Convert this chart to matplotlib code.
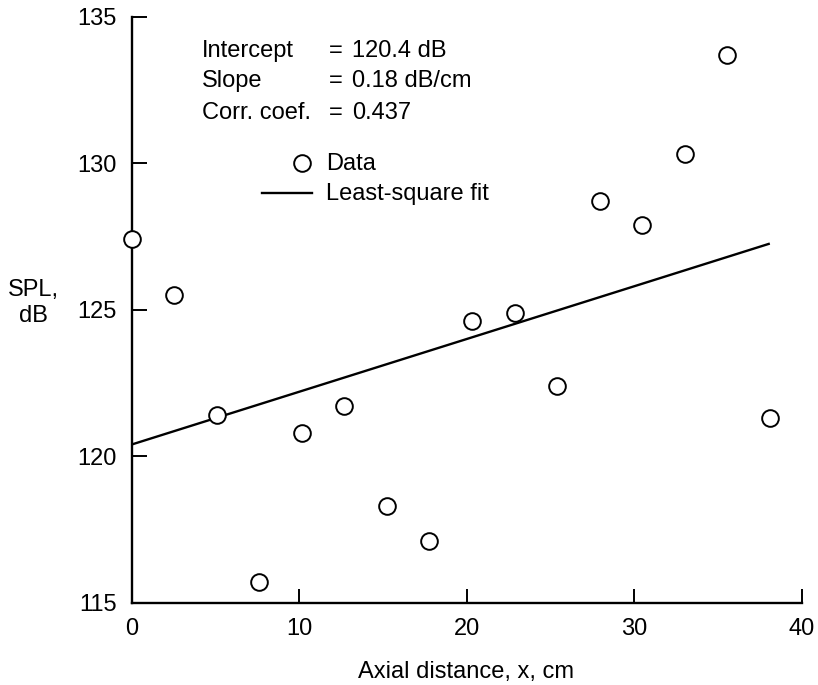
import numpy as np
import matplotlib.pyplot as plt

# SPL measurements along the axis (x spaced at 1 in = 2.54 cm)
axial_cm = [0.0, 2.54, 5.08, 7.62, 10.16, 12.7, 15.24, 17.78,
            20.32, 22.86, 25.4, 27.94, 30.48, 33.02, 35.56, 38.1]
spl_db = [127.4, 125.5, 121.4, 115.7, 120.8, 121.7, 118.3, 117.1,
          124.6, 124.9, 122.4, 128.7, 127.9, 130.3, 133.7, 121.3]

# least-square fit results
intercept = 120.4
slope = 0.18
corr_coef = 0.437

x_ticks = [0, 10, 20, 30, 40]
y_ticks = [115, 120, 125, 130, 135]

plt.rcParams['font.family'] = ['Liberation Sans', 'DejaVu Sans']
plt.rcParams['font.size'] = 17

fig = plt.figure(figsize=(8.18, 6.85), dpi=100)
ax = fig.add_axes([0.161, 0.1201, 0.819, 0.8555])

# fit line over the measured range
fit_x = np.array([axial_cm[0], axial_cm[-1]])
fit_y = intercept + slope * fit_x
ax.plot(fit_x, fit_y, color='black', lw=1.7, solid_capstyle='butt')

ax.plot(axial_cm, spl_db, linestyle='none', marker='o', ms=12,
        mfc='white', mec='black', mew=1.4, clip_on=False, zorder=3)

ax.set_xlim(0, 40)
ax.set_ylim(115, 135)
ax.set_xticks(x_ticks)
ax.set_yticks(y_ticks)

for side in ['top', 'right']:
    ax.spines[side].set_visible(False)
for side in ['left', 'bottom']:
    ax.spines[side].set_linewidth(1.7)

ax.tick_params(axis='y', direction='in', length=11, width=1.4, pad=11)
ax.tick_params(axis='x', direction='in', length=10, width=1.4, pad=11)

# fit statistics
stat_names = ['Intercept', 'Slope', 'Corr. coef.']
stat_values = [f'{intercept} dB', f'{slope} dB/cm', f'{corr_coef}']
stat_rows = [133.63, 132.59, 131.51]
for name, val, yrow in zip(stat_names, stat_values, stat_rows):
    ax.text(4.2, yrow, name, ha='left', va='baseline')
    ax.text(11.8, yrow, '=', ha='left', va='baseline')
    ax.text(13.15, yrow, val, ha='left', va='baseline')

# key
ax.plot([10.15], [130.02], linestyle='none', marker='o', ms=12,
        mfc='white', mec='black', mew=1.4)
ax.plot([7.76, 10.75], [128.97, 128.97], color='black', lw=1.7)
ax.text(11.6, 129.77, 'Data', ha='left', va='baseline')
ax.text(11.6, 128.74, 'Least-square fit', ha='left', va='baseline')

fig.text(33 / 818, 1 - 303 / 685, 'SPL,\ndB', ha='center', va='center',
         linespacing=1.2)
fig.text(466 / 818, 1 - 672 / 685, 'Axial distance, x, cm',
         ha='center', va='center')

fig.savefig('out.png', dpi=100)
